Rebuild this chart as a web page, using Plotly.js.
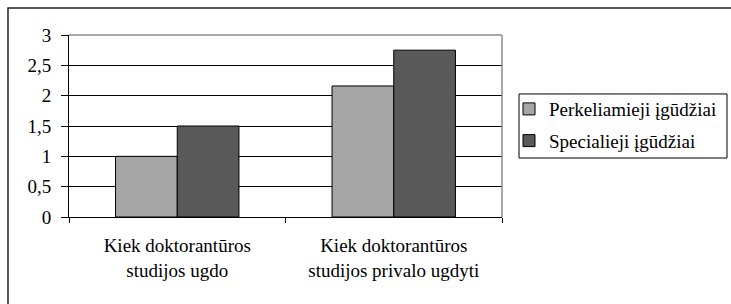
<!DOCTYPE html>
<html>
<head>
<meta charset="utf-8">
<script src="https://cdn.plot.ly/plotly-3.0.1.min.js"></script>
<style>html,body{margin:0;padding:0;background:#fff;}</style>
</head>
<body>
<div id="chart" style="width:731px;height:304px;"></div>
<script>
const categories = ["Kiek doktorantūros<br>studijos ugdo", "Kiek doktorantūros<br>studijos privalo ugdyti"];
const seriesNames = ["Perkeliamieji įgūdžiai", "Specialieji įgūdžiai"];
const perkeliamieji = [1, 2.16];
const specialieji = [1.5, 2.75];
const yTicks = [0, 0.5, 1, 1.5, 2, 2.5, 3];

const font = {family: "Liberation Serif", size: 19, color: "#000"};

const traces = [
  {type: "bar", name: seriesNames[0], x: categories, y: perkeliamieji,
   marker: {color: "#a6a6a6", line: {color: "#000", width: 1}}, legendgroup: "a"},
  {type: "bar", name: seriesNames[1], x: categories, y: specialieji,
   marker: {color: "#595959", line: {color: "#000", width: 1}}, legendgroup: "b"}
];

const layout = {
  width: 731, height: 304,
  margin: {l: 69, r: 229, t: 35, b: 87, autoexpand: false},
  paper_bgcolor: "#fff", plot_bgcolor: "#fff",
  font: font,
  separators: ", ",
  barmode: "group", bargap: 0.43, bargroupgap: 0,
  showlegend: true,
  legend: {x: 1.0162, y: 0.6975, xanchor: "left", yanchor: "top",
           borderwidth: 0, bgcolor: "rgba(0,0,0,0)",
           traceorder: "grouped", tracegroupgap: 4, font: font,
           itemwidth: 30},
  xaxis: {showline: true, linecolor: "#000", linewidth: 1, ticks: "outside",
          tickson: "boundaries", ticklen: 5, tickcolor: "#000",
          ticklabelstandoff: 11,
          showgrid: false, tickfont: font, fixedrange: true},
  yaxis: {range: [0, 3], tickvals: yTicks, showline: true, linecolor: "#000",
          ticks: "outside", ticklen: 7, tickcolor: "#000",
          ticklabelstandoff: 6,
          showgrid: true, gridcolor: "#000", gridwidth: 1, zeroline: false,
          tickfont: font, fixedrange: true},
  shapes: [
    {type: "line", xref: "paper", yref: "paper", x0: 0, x1: 1, y0: 1, y1: 1,
     line: {color: "#8c8c8c", width: 1.5}},
    {type: "line", xref: "paper", yref: "paper", x0: 1, x1: 1, y0: 0, y1: 1,
     line: {color: "#8c8c8c", width: 1.5}},
    {type: "rect", xref: "paper", yref: "paper", x0: -0.1409, x1: 2, y0: -2, y1: 1.148,
     line: {color: "#222", width: 1.5}, layer: "below"},
    {type: "rect", xref: "paper", yref: "paper", x0: 1.0393, x1: 1.5196, y0: 0.324, y1: 0.676,
     line: {color: "#000", width: 1}, fillcolor: "rgba(0,0,0,0)", layer: "above"}
  ]
};

Plotly.newPlot("chart", traces, layout, {displayModeBar: false, staticPlot: true});
</script>
</body>
</html>
